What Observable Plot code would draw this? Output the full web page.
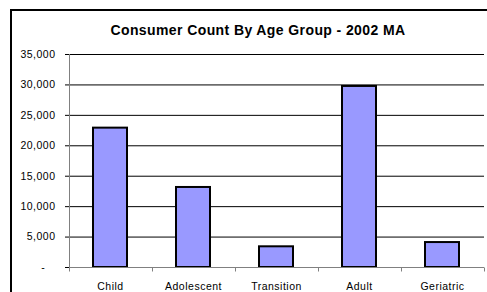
<!DOCTYPE html>
<html>
<head>
<meta charset="utf-8">
<script src="https://cdn.jsdelivr.net/npm/d3@7"></script>
<script src="https://cdn.jsdelivr.net/npm/@observablehq/plot@0.6"></script>
<style>
  html, body { margin: 0; padding: 0; background: #fff; overflow: hidden; width: 487px; height: 292px; }
  #wrap { position: relative; width: 487px; height: 292px; overflow: hidden; background: #fff; }
  #border { position: absolute; left: 10px; top: 9px; width: 600px; height: 400px; border-left: 2px solid #000; border-top: 2px solid #000; box-sizing: border-box; }
  #title { position: absolute; left: 0; top: 23px; width: 516px; text-align: center;
           font-family: "Liberation Sans", Arial, sans-serif; font-weight: bold; font-size: 14px;
           line-height: 1; letter-spacing: 0.4px; color: #000; white-space: nowrap; }
  #chart { position: absolute; left: 0; top: 0; width: 487px; height: 292px; overflow: hidden; }
  #chart svg text { letter-spacing: 0.5px; }
</style>
</head>
<body>
<div id="wrap">
  <div id="border"></div>
  <div id="chart"></div>
  <div id="title">Consumer Count By Age Group - 2002 MA</div>
</div>
<script>
const titleText = "Consumer Count By Age Group - 2002 MA";
const categories = ["Child", "Adolescent", "Transition", "Adult", "Geriatric"];
const counts = [22900, 13150, 3400, 29750, 4100];
const yTicks = [0, 5000, 10000, 15000, 20000, 25000, 30000, 35000];

document.getElementById("title").textContent = titleText;

const data = categories.map((c, i) => ({category: c, count: counts[i]}));
const fmt = d3.format(",");

function axisLines(index, scales, values, dimensions) {
  const {width, marginLeft, marginRight} = dimensions;
  const g = d3.create("svg:g").attr("stroke", "#808080").attr("stroke-width", 1).attr("fill", "none");
  const y0 = Math.round(scales.y(0)) + 0.5;
  const yTop = scales.y(yTicks[yTicks.length - 1]);
  const left = marginLeft + 0.5;
  const right = width - marginRight;
  g.append("line").attr("x1", left).attr("x2", left).attr("y1", yTop).attr("y2", y0);
  g.append("line").attr("x1", left).attr("x2", right).attr("y1", y0).attr("y2", y0);
  const n = categories.length;
  const step = (right - marginLeft) / n;
  for (let i = 0; i <= n; i++) {
    const x = Math.round(marginLeft + i * step) + 0.5;
    g.append("line").attr("x1", x).attr("x2", x).attr("y1", y0).attr("y2", y0 + 4);
  }
  return g.node();
}

const chart = Plot.plot({
  width: 487,
  height: 292,
  marginLeft: 69,
  marginRight: 3,
  marginTop: 54,
  marginBottom: 25,
  style: {fontFamily: "'Liberation Sans', Arial, sans-serif", fontSize: "10.5px", background: "transparent", color: "#000", overflow: "hidden"},
  x: {domain: categories, paddingInner: 0.59, paddingOuter: 0.295, label: null},
  y: {domain: [0, 35000], label: null},
  marks: [
    Plot.ruleY(yTicks.filter(d => d > 0), {stroke: "#000", strokeWidth: 1}),
    Plot.barY(data, {x: "category", y: "count", fill: "#9999FF", stroke: "#000", strokeWidth: 2}),
    Plot.axisY({ticks: yTicks, tickSize: 4, tickPadding: 10, stroke: "#000",
      tickFormat: d => d === 0 ? "-\u00a0\u00a0\u00a0" : fmt(d), label: null}),
    Plot.axisX({tickSize: 0, tickPadding: 15, label: null}),
    axisLines
  ]
});
document.getElementById("chart").appendChild(chart);
</script>
</body>
</html>
